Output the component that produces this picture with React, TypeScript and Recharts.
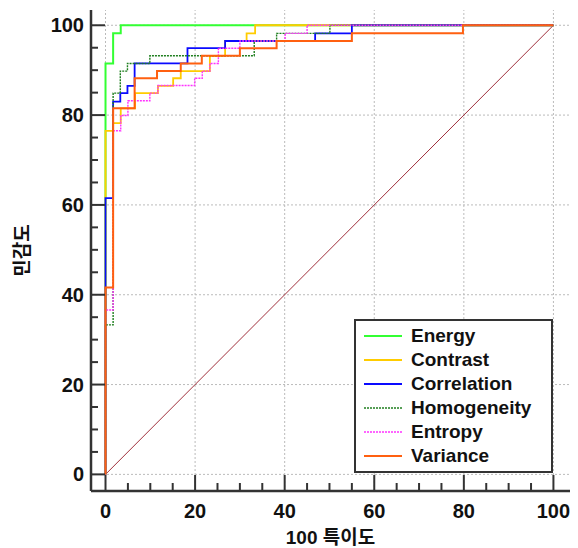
import { Label, Legend, Line, LineChart, ReferenceLine, XAxis, YAxis } from "recharts";

// ROC points (100 - specificity, sensitivity)
const energy = [[0, 0], [0, 91.5], [1.7, 98.2], [3.4, 100], [100, 100]];
const contrast = [[0, 0], [0, 76.5], [1.7, 78.2], [3.4, 81.5], [6.6, 84.9], [11.7, 86.5], [15.1, 88.2], [16.8, 89.8], [23.3, 93.2], [26.7, 96.5], [31.5, 98.2], [33.4, 100], [100, 100]];
const correlation = [[0, 0], [0, 61.5], [1.7, 83.0], [3.3, 84.9], [4.9, 86.5], [6.5, 91.5], [18.3, 94.9], [26.7, 96.5], [46.8, 98.2], [55, 100], [100, 100]];
const homogeneity = [[0, 0], [0, 33.3], [1.7, 84.9], [3.3, 89.8], [4.9, 91.5], [9.9, 93.2], [33.2, 96.5], [38.2, 98.2], [50.1, 100], [100, 100]];
const entropy = [[0, 0], [0, 36.6], [1.7, 76.5], [3.4, 79.9], [5.0, 83.2], [9.9, 84.9], [11.7, 86.6], [19.9, 88.2], [21.6, 89.8], [23.3, 91.5], [25.2, 94.9], [30, 96.5], [40.1, 98.2], [45, 100], [100, 100]];
const variance = [[0, 0], [0, 41.6], [1.7, 81.5], [6.5, 88.2], [11.5, 89.8], [16.8, 91.5], [21.5, 93.2], [30, 94.9], [38.2, 96.5], [55, 98.2], [79.8, 100], [100, 100]];
const reference = [[0, 0], [100, 100]];

const ticks = [0, 5, 10, 15, 20, 25, 30, 35, 40, 45, 50, 55, 60, 65, 70, 75, 80, 85, 90, 95, 100];
const majorTicks = [0, 20, 40, 60, 80, 100];

const series = [
  { name: "Energy", data: energy, color: "#33ff33", width: 2, dash: undefined },
  { name: "Contrast", data: contrast, color: "#ffcc00", width: 1.8, dash: undefined },
  { name: "Correlation", data: correlation, color: "#0a0aff", width: 1.8, dash: undefined },
  { name: "Homogeneity", data: homogeneity, color: "#1f7f1f", width: 1.4, dash: "2 1" },
  { name: "Entropy", data: entropy, color: "#ff33ff", width: 1.4, dash: "2 1" },
  { name: "Variance", data: variance, color: "#ff6010", width: 2, dash: undefined },
];

const font = "'Liberation Sans', Arial, 'Noto Sans CJK KR', sans-serif";
const toPoints = (pts) => pts.map(([x, y]) => ({ x, y }));

const XTick = ({ x, y, payload }) => {
  const major = payload.value % 20 === 0;
  return (
    <g>
      <line x1={x} x2={x} y1={y} y2={y - (major ? 16 : 8)} stroke="#333" strokeWidth={2} />
      {major && (
        <text x={x} y={y + 20} textAnchor="middle" dominantBaseline="central" fontSize={20} fontWeight="bold" fill="#111" fontFamily={font}>
          {payload.value}
        </text>
      )}
    </g>
  );
};

const YTick = ({ x, y, payload }) => {
  const major = payload.value % 20 === 0;
  return (
    <g>
      <line x1={x} x2={x + (major ? 14 : 7)} y1={y} y2={y} stroke="#333" strokeWidth={2} />
      {major && (
        <text x={x - 7} y={y} textAnchor="end" dominantBaseline="central" fontSize={20} fontWeight="bold" fill="#111" fontFamily={font}>
          {payload.value}
        </text>
      )}
    </g>
  );
};

const LegendBox = () => (
  <div style={{ width: 199, height: 154, border: "2px solid #333", boxSizing: "border-box", background: "#fff", paddingTop: 3 }}>
    {series.map((s) => (
      <div key={s.name} style={{ height: 24, display: "flex", alignItems: "center" }}>
        <svg width={47} height={6} style={{ marginLeft: 8 }}>
          <line x1={0} x2={38} y1={3} y2={3} stroke={s.color} strokeWidth={s.width} strokeDasharray={s.dash} />
        </svg>
        <span style={{ fontFamily: font, fontWeight: "bold", fontSize: 19, color: "#111" }}>{s.name}</span>
      </div>
    ))}
  </div>
);

export default function App() {
  return (
    <LineChart width={570} height={540} margin={{ top: 2, right: 8, bottom: 27, left: 0 }}>
      <XAxis
        type="number"
        dataKey="x"
        domain={[-3.24, 103.7]}
        ticks={ticks}
        interval={0}
        tickSize={0}
        tickMargin={0}
        tickLine={false}
        tick={XTick}
        height={30}
        axisLine={{ stroke: "#333", strokeWidth: 2.5 }}
      >
        <Label
          content={({ viewBox }) => (
            <text x={viewBox.x + viewBox.width / 2} y={viewBox.y + 46} textAnchor="middle" dominantBaseline="central" fontSize={19} fontWeight="bold" fill="#111" fontFamily={font}>
              100 특이도
            </text>
          )}
        />
      </XAxis>
      <YAxis
        type="number"
        dataKey="y"
        domain={[-3.7, 103.4]}
        ticks={ticks}
        interval={0}
        tickSize={0}
        tickMargin={0}
        tickLine={false}
        tick={YTick}
        width={83}
        axisLine={{ stroke: "#333", strokeWidth: 2.5 }}
      >
        <Label
          content={({ viewBox }) => {
            const cx = 14;
            const cy = viewBox.y + viewBox.height / 2;
            return (
              <text x={cx} y={cy} transform={`rotate(-90 ${cx} ${cy})`} textAnchor="middle" dominantBaseline="central" fontSize={19} fontWeight="bold" fill="#111" fontFamily={font}>
                민감도
              </text>
            );
          }}
        />
      </YAxis>
      {majorTicks.map((v) => (
        <ReferenceLine key={`gx${v}`} x={v} stroke="#bbb" strokeDasharray="2 2" />
      ))}
      {majorTicks.map((v) => (
        <ReferenceLine key={`gy${v}`} y={v} stroke="#bbb" strokeDasharray="2 2" />
      ))}
      <Line data={toPoints(reference)} dataKey="y" type="linear" stroke="#a0303c" strokeWidth={1} dot={false} isAnimationActive={false} legendType="none" />
      {series.map((s) => (
        <Line
          key={s.name}
          name={s.name}
          data={toPoints(s.data)}
          dataKey="y"
          type="stepAfter"
          stroke={s.color}
          strokeWidth={s.width}
          strokeDasharray={s.dash}
          dot={false}
          isAnimationActive={false}
        />
      ))}
      <Legend
        layout="vertical"
        align="center"
        verticalAlign="middle"
        content={LegendBox}
        wrapperStyle={{ left: 346, top: 311, width: 199, height: 154 }}
      />
    </LineChart>
  );
}
